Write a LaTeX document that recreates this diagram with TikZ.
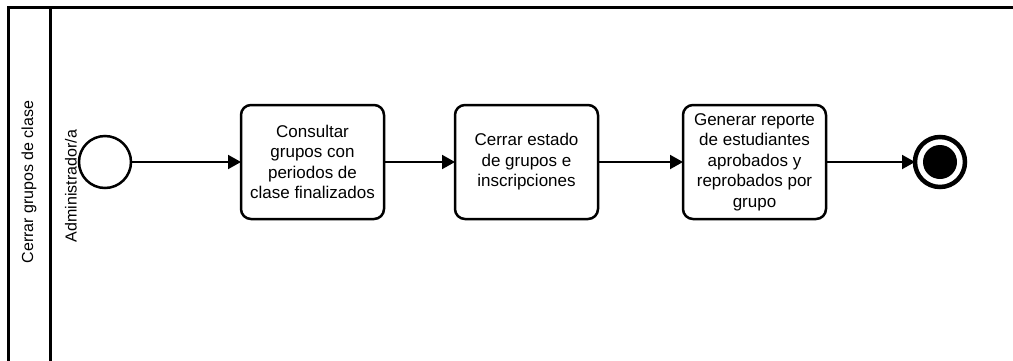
\documentclass[tikz,border=0pt]{standalone}
\usepackage{fontspec}
\setmainfont{Liberation Sans}
\usetikzlibrary{arrows.meta, positioning}

\begin{document}
\begin{tikzpicture}[
    x=1pt, y=-1pt,
    node distance=10pt,
    every node/.style={outer sep=0pt},
    task/.style={rectangle, rounded corners=10pt, draw, line width=2.5pt, align=center, minimum width=143pt, minimum height=114pt, inner sep=2pt, font=\fontsize{17}{20.5}\selectfont},
    startev/.style={circle, draw, line width=2.5pt, minimum size=52pt, inner sep=0pt},
    endev/.style={circle, draw, line width=4.5pt, minimum size=50pt, inner sep=0pt,
        path picture={\fill (path picture bounding box.center) circle (17pt);}},
    flow/.style={line width=2pt, -{Triangle[length=13pt, width=14pt]}},
    lanelabel/.style={rotate=90, font=\fontsize{16}{20}\selectfont}
]
    \useasboundingbox (0,0) rectangle (1013,360);
    \clip (0,0) rectangle (1013,360);

    % pool and lane
    \draw[line width=3pt] (8,380) |- (1030,7);
    \draw[line width=3pt] (50,7) -- (50,380);
    \node[lanelabel] (pool) at (29,182) {Cerrar grupos de clase};
    \node[lanelabel] (lane) at (71,186) {Administrador/a};

    \node[startev] (start) at (105,162) {};
    \node[task, right=110pt of start] (consultar) {Consultar\\grupos con\\periodos de\\clase finalizados};
    \node[task, right=71pt of consultar] (cerrar) {Cerrar estado\\de grupos e\\inscripciones};
    \node[task, right=85pt of cerrar] (reporte) {Generar reporte\\de estudiantes\\aprobados y\\reprobados por\\grupo};
    \node[endev, right=89pt of reporte] (end) {};

    \draw[flow] (start) -- (consultar);
    \draw[flow] (consultar) -- (cerrar);
    \draw[flow] (cerrar) -- (reporte);
    \draw[flow] (reporte) -- (end);
\end{tikzpicture}
\end{document}
